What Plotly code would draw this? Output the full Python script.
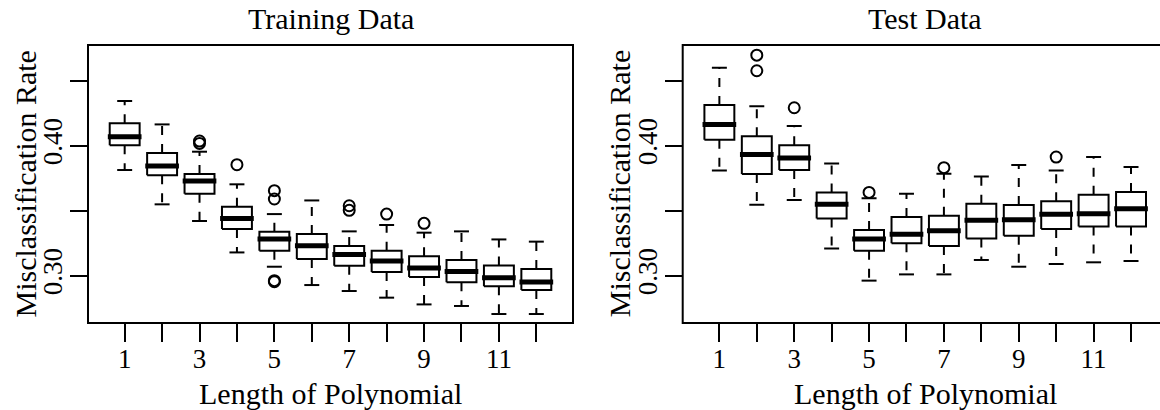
import plotly.graph_objects as go

# ---------------- data ----------------
positions = list(range(1, 13))
x_tick_text = ["1", "", "3", "", "5", "", "7", "", "9", "", "11", ""]
y_tick_vals = [0.30, 0.35, 0.40, 0.45]
y_tick_text = ["0.30", "", "0.40", ""]

train_lo = [0.3813, 0.3549, 0.3421, 0.3179, 0.3069, 0.2928, 0.2882, 0.2831, 0.2779, 0.2767, 0.2705, 0.2705]
train_q1 = [0.4003, 0.3772, 0.3631, 0.3359, 0.3192, 0.3128, 0.3077, 0.3028, 0.2990, 0.2949, 0.2918, 0.2890]
train_med = [0.4069, 0.3844, 0.3728, 0.3441, 0.3282, 0.3231, 0.3164, 0.3113, 0.3059, 0.3033, 0.2985, 0.2951]
train_q3 = [0.4172, 0.3944, 0.3782, 0.3531, 0.3338, 0.3321, 0.3228, 0.3192, 0.3149, 0.3121, 0.3079, 0.3051]
train_hi = [0.4344, 0.4164, 0.3954, 0.3703, 0.3474, 0.3579, 0.3341, 0.3390, 0.3331, 0.3341, 0.3279, 0.3262]
train_out_pos = [3, 3, 4, 5, 5, 5, 5, 7, 7, 8, 9]
train_out_val = [0.4036, 0.4018, 0.3854, 0.3654, 0.3590, 0.2962, 0.2954, 0.3538, 0.3503, 0.3474, 0.3403]

test_lo = [0.3810, 0.3546, 0.3582, 0.3210, 0.2962, 0.3010, 0.3010, 0.3121, 0.3069, 0.3090, 0.3103, 0.3113]
test_q1 = [0.4046, 0.3782, 0.3813, 0.3441, 0.3192, 0.3249, 0.3228, 0.3287, 0.3308, 0.3359, 0.3379, 0.3379]
test_med = [0.4164, 0.3933, 0.3905, 0.3549, 0.3282, 0.3318, 0.3346, 0.3426, 0.3431, 0.3472, 0.3477, 0.3515]
test_q3 = [0.4313, 0.4072, 0.4003, 0.3641, 0.3351, 0.3451, 0.3462, 0.3554, 0.3544, 0.3572, 0.3623, 0.3644]
test_hi = [0.4600, 0.4303, 0.4151, 0.3864, 0.3595, 0.3631, 0.3785, 0.3764, 0.3851, 0.3810, 0.3913, 0.3836]
test_out_pos = [2, 2, 3, 5, 7, 10]
test_out_val = [0.4697, 0.4577, 0.4292, 0.3641, 0.3831, 0.3913]

# ---------------- layout / style ----------------
W, H = 1160, 410
MT = 45
MB = H - 323
PH = H - MT - MB
FONT = "Liberation Serif"
BOX_HALF = 0.4
STAPLE_HALF = 0.2
MED_HALF = 0.45


def px_x(px):  # page pixel -> paper x
    return px / W


def px_y(py):  # page pixel -> paper y
    return (H - MB - py) / PH


def panel_traces(lo, q1, med, q3, hi, opos, oval, xa, ya):
    bx, by, wx, wy, sx, sy, mx, my = [], [], [], [], [], [], [], []
    for p, a, m, b, l, h in zip(positions, q1, med, q3, lo, hi):
        bx += [p - BOX_HALF, p + BOX_HALF, p + BOX_HALF, p - BOX_HALF, p - BOX_HALF, None]
        by += [a, a, b, b, a, None]
        wx += [p, p, None, p, p, None]
        wy += [a, l, None, b, h, None]
        sx += [p - STAPLE_HALF, p + STAPLE_HALF, None, p - STAPLE_HALF, p + STAPLE_HALF, None]
        sy += [l, l, None, h, h, None]
        mx += [p - MED_HALF, p + MED_HALF, None]
        my += [m, m, None]
    common = dict(mode="lines", xaxis=xa, yaxis=ya, showlegend=False, hoverinfo="skip")
    return [
        go.Scatter(x=wx, y=wy, line=dict(color="black", width=2, dash="9px,9px"), **common),
        go.Scatter(x=sx, y=sy, line=dict(color="black", width=2), **common),
        go.Scatter(x=bx, y=by, line=dict(color="black", width=2), **common),
        go.Scatter(x=mx, y=my, line=dict(color="black", width=5), **common),
        go.Scatter(x=opos, y=oval, mode="markers", xaxis=xa, yaxis=ya, showlegend=False,
                   marker=dict(symbol="circle-open", size=11, color="black", line=dict(width=2))),
    ]


fig = go.Figure()
for t in panel_traces(train_lo, train_q1, train_med, train_q3, train_hi,
                      train_out_pos, train_out_val, "x", "y"):
    fig.add_trace(t)
for t in panel_traces(test_lo, test_q1, test_med, test_q3, test_hi,
                      test_out_pos, test_out_val, "x2", "y2"):
    fig.add_trace(t)

# page-pixel positions of the panel frames
L1, R1 = 88, 573
L2, R2 = 682.7, 1167.7
YR = [0.2636, 0.4775]
XR = [0.02, 12.98]

xcommon = dict(tickvals=positions, ticktext=x_tick_text, ticks="outside", ticklen=18,
               tickwidth=2, tickcolor="black", showgrid=False, zeroline=False, showline=False,
               ticklabelstandoff=-6,
               tickfont=dict(family=FONT, size=27, color="black"))
ycommon = dict(range=YR, tickvals=y_tick_vals, ticktext=y_tick_text, tickangle=-90,
               ticks="outside", ticklen=17, tickwidth=2, tickcolor="black", showgrid=False,
               zeroline=False, showline=False, ticklabelstandoff=-3,
               tickfont=dict(family=FONT, size=27, color="black"))

fig.update_layout(
    width=W, height=H,
    margin=dict(l=0, r=0, t=MT, b=MB),
    paper_bgcolor="white", plot_bgcolor="white",
    hovermode=False,
    xaxis=dict(domain=[px_x(L1), px_x(R1)], range=XR, anchor="y", **xcommon),
    yaxis=dict(domain=[0, 1], anchor="x", **ycommon),
    xaxis2=dict(domain=[px_x(L2), 1.0],
                range=[XR[0], XR[0] + (XR[1] - XR[0]) * (W - L2) / (R2 - L2)],
                anchor="y2", **xcommon),
    yaxis2=dict(domain=[0, 1], anchor="x2", **ycommon),
    shapes=[
        dict(type="rect", xref="paper", yref="paper", x0=px_x(L1), x1=px_x(R1), y0=0, y1=1,
             line=dict(color="black", width=2)),
        dict(type="rect", xref="paper", yref="paper", x0=px_x(L2), x1=px_x(R2), y0=0, y1=1,
             line=dict(color="black", width=2)),
    ],
)

ann_font = dict(family=FONT, size=30, color="black")
for left, right, title in [(L1, R1, "Training Data"), (L2, R2, "Test Data")]:
    cx = px_x((left + right) / 2)
    fig.add_annotation(x=cx, y=px_y(18.5), xref="paper", yref="paper", text=title,
                       showarrow=False, font=ann_font, xanchor="center", yanchor="middle")
    fig.add_annotation(x=cx, y=px_y(393.5), xref="paper", yref="paper",
                       text="Length of Polynomial", showarrow=False, font=ann_font,
                       xanchor="center", yanchor="middle")
    fig.add_annotation(x=px_x(left - 63.5), y=0.5, xref="paper", yref="paper",
                       text="Misclassification Rate", textangle=-90, showarrow=False,
                       font=ann_font, xanchor="center", yanchor="middle")

# remove the browser's default 8px body margin so the figure fills the window exactly
fig.write_html("out.html", config={"displayModeBar": False},
               post_script="document.body.style.margin='0px';")
